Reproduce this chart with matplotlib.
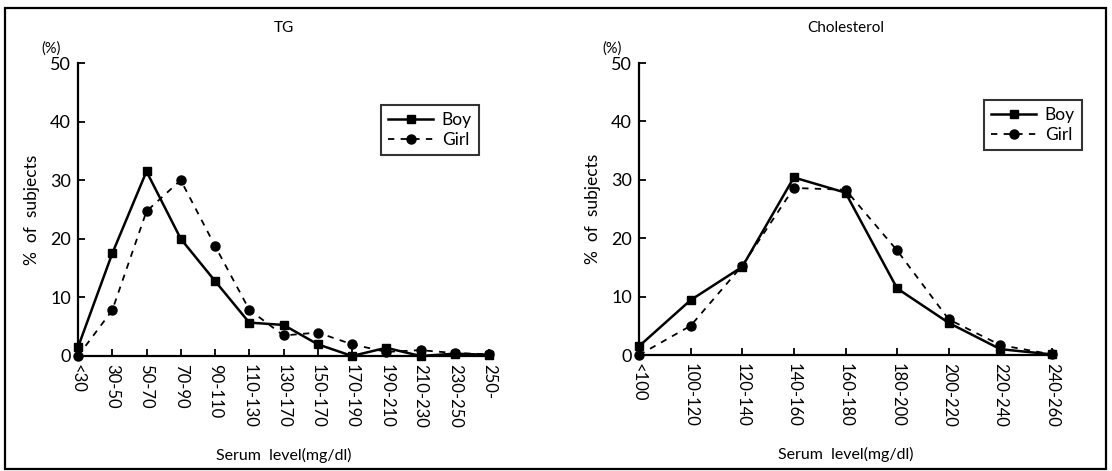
import matplotlib
matplotlib.use("Agg")
import matplotlib.pyplot as plt
from matplotlib.patches import Rectangle

plt.rcParams['font.family'] = ['Lato', 'DejaVu Sans']

tg_categories = ["<30", "30-50", "50-70", "70-90", "90-110", "110-130", "130-170",
                 "150-170", "170-190", "190-210", "210-230", "230-250", "250-"]
tg_boy = [1.5, 17.5, 31.5, 20.0, 12.8, 5.7, 5.3, 2.0, 0.0, 1.4, 0.0, 0.4, 0.2]
tg_girl = [0.0, 7.8, 24.7, 30.0, 18.8, 7.9, 3.5, 4.0, 2.0, 0.7, 1.0, 0.5, 0.3]

chol_categories = ["<100", "100-120", "120-140", "140-160", "160-180", "180-200",
                   "200-220", "220-240", "240-260"]
chol_boy = [1.5, 9.4, 15.1, 30.4, 27.8, 11.4, 5.5, 1.0, 0.1]
chol_girl = [0.0, 5.0, 15.3, 28.6, 28.3, 17.9, 6.1, 1.7, 0.1]

y_ticks = [0, 10, 20, 30, 40, 50]

W, H = 1112, 471
fig = plt.figure(figsize=(W / 100, H / 100), dpi=100)

# outer frame
fig.patches.append(Rectangle((5 / W, 2 / H), 1101 / W, 461 / H, transform=fig.transFigure,
                             fill=False, edgecolor='black', linewidth=1.6))


def px_axes(x0, x1, y_top, y_bot):
    return fig.add_axes([x0 / W, (H - y_bot) / H, (x1 - x0) / W, (y_bot - y_top) / H])


def draw(ax, cats, boy, girl, title, legend_anchor):
    x = list(range(len(cats)))
    ax.plot(x, boy, color='black', linestyle='-', linewidth=1.8, marker='s',
            markersize=6, clip_on=False, label='Boy', zorder=3)
    ax.plot(x, girl, color='black', linestyle=(0, (3.5, 3.5)), linewidth=1.3, marker='o',
            markersize=6.5, clip_on=False, label='Girl', zorder=3)
    ax.set_xlim(0, len(cats) - 1)
    ax.set_ylim(0, 50)
    ax.set_yticks(y_ticks)
    ax.set_xticks(x)
    ax.set_xticklabels(cats, rotation=270, fontsize=12)
    ax.tick_params(axis='y', direction='in', length=5, width=1.3, labelsize=13, pad=5)
    ax.tick_params(axis='x', direction='in', length=5, width=1.3, pad=6)
    for s in ('top', 'right'):
        ax.spines[s].set_visible(False)
    for s in ('left', 'bottom'):
        ax.spines[s].set_linewidth(1.6)
    ax.text(0.5, 1.12, title, transform=ax.transAxes, ha='center', va='center', fontsize=11)
    ax.text(-0.065, 1.05, "(%)", transform=ax.transAxes, ha='center', va='center', fontsize=10.5)
    ax.set_ylabel("%  of  subjects", fontsize=12.5, labelpad=7)
    ax.set_xlabel("Serum  level(mg/dl)", fontsize=11.5, labelpad=14)
    leg = ax.legend(loc='upper left', bbox_to_anchor=legend_anchor, fontsize=12.5,
                    frameon=True, fancybox=False, handlelength=2.6, handletextpad=0.5,
                    borderpad=0.4, labelspacing=0.25, borderaxespad=0)
    leg.get_frame().set_edgecolor('black')
    leg.get_frame().set_linewidth(1.5)


ax1 = px_axes(78, 489, 63, 356)
draw(ax1, tg_categories, tg_boy, tg_girl, "TG", ((381 - 78) / 411, (356 - 105) / 293))

ax2 = px_axes(639, 1052, 63, 355)
draw(ax2, chol_categories, chol_boy, chol_girl, "Cholesterol", ((984 - 639) / 413, (355 - 100) / 292))

fig.savefig("out.png", dpi=100)
